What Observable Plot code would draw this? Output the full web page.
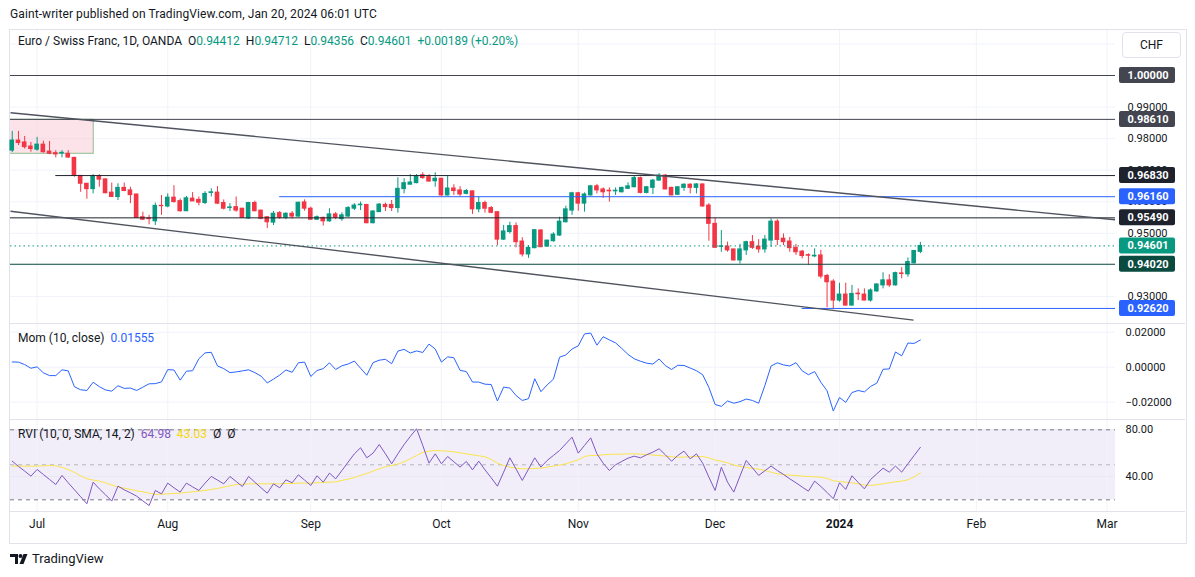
<!DOCTYPE html>
<html><head><meta charset="utf-8">
<script src="https://cdn.jsdelivr.net/npm/d3@7"></script>
<script src="https://cdn.jsdelivr.net/npm/@observablehq/plot@0.6"></script>
<style>
html,body{margin:0;padding:0;background:#fff;}
#wrap{position:relative;width:1195px;height:577px;overflow:hidden;font-family:Roboto,"Liberation Sans",sans-serif;color:#131722;}
.a{position:absolute;white-space:nowrap;}
.a svg{display:block;}
.sep{position:absolute;left:10px;width:1175px;height:1px;background:#e0e3eb;}
</style></head><body>
<div id="wrap">
  <div class="a" style="left:10px;top:7px;font-size:12px;letter-spacing:0.1px;">Gaint-writer published on TradingView.com, Jan 20, 2024 06:01 UTC</div>
  <div class="a" style="left:9px;top:29px;width:1176px;height:513px;border:1px solid #e0e3eb;"></div>
  <div class="a" id="main" style="left:0;top:30px;"></div>
  <div class="a" id="mom" style="left:0;top:323px;"></div>
  <div class="a" id="rvi" style="left:0;top:419px;"></div>
  <div class="sep" style="top:323px;"></div>
  <div class="sep" style="top:419px;"></div>
  <div class="sep" style="top:511px;"></div>
  <div class="a" id="symline" style="left:18px;top:34px;font-size:12px;line-height:14px;"></div>
  <div class="a" style="left:1122px;top:32px;width:57px;height:24px;border:1px solid #e0e3eb;border-radius:4px;background:#fff;font-size:12px;line-height:24px;text-align:center;">CHF</div>
  <div class="a" style="left:18px;top:331px;font-size:12px;line-height:14px;">Mom (10, close)&nbsp;&nbsp;<span style="color:#2962ff">0.01555</span></div>
  <div class="a" style="left:18px;top:427px;font-size:12px;line-height:14px;">RVI (10, 0, SMA, 14, 2)&nbsp;&nbsp;<span style="color:#7e57c2">64.98</span>&nbsp;&nbsp;<span style="color:#f5d90a">43.03</span>&nbsp;&nbsp;Ø&nbsp;&nbsp;Ø</div>
  <div class="a" style="left:10px;top:551px;height:16px;">
    <svg width="20" height="16" viewBox="0 0 20 16"><path d="M0 3h8v10H5V6H0z" fill="#131722"/><circle cx="10.5" cy="5" r="2" fill="#131722"/><path d="M13.5 3h4l-4 10h-4z" fill="#131722"/></svg>
  </div>
  <div class="a" style="left:32px;top:551px;font-size:13px;line-height:16px;">TradingView</div>
</div>
<script>
// ---------- data ----------
const firstBarDate = "2023-06-27";
const holidays = ["2023-12-25", "2024-01-01"];
const calendarEnd = "2024-03-08";
const monthNames = ["Jan","Feb","Mar","Apr","May","Jun","Jul","Aug","Sep","Oct","Nov","Dec"];
const dayChange = "+0.00189";
const dayChangePct = "(+0.20%)";

const opens = [0.9762,0.9794,0.9788,0.9775,0.9765,0.9781,0.9759,0.9754,0.9753,0.9752,
0.9739,0.9682,0.9657,0.9640,0.9680,0.9671,0.9629,0.9615,0.9644,0.9636,
0.9623,0.9551,0.9547,0.9538,0.9587,0.9585,0.9613,0.9602,0.9570,0.9610,
0.9606,0.9596,0.9628,0.9629,0.9596,0.9580,0.9583,0.9578,0.9547,0.9596,
0.9572,0.9551,0.9534,0.9564,0.9549,0.9562,0.9553,0.9598,0.9578,0.9543,
0.9549,0.9538,0.9560,0.9545,0.9553,0.9578,0.9589,0.9590,0.9532,0.9567,
0.9590,0.9590,0.9580,0.9640,0.9654,0.9659,0.9684,0.9678,0.9665,0.9673,
0.9620,0.9642,0.9636,0.9625,0.9633,0.9576,0.9596,0.9580,0.9567,0.9480,
0.9504,0.9523,0.9474,0.9433,0.9453,0.9509,0.9458,0.9475,0.9493,0.9535,
0.9572,0.9627,0.9594,0.9620,0.9649,0.9639,0.9635,0.9633,0.9630,0.9641,
0.9646,0.9675,0.9628,0.9644,0.9667,0.9683,0.9644,0.9622,0.9644,0.9654,
0.9644,0.9655,0.9588,0.9530,0.9457,0.9458,0.9449,0.9414,0.9446,0.9472,
0.9458,0.9449,0.9477,0.9537,0.9483,0.9474,0.9454,0.9442,0.9431,0.9427,
0.9430,0.9365,0.9347,0.9287,0.9306,0.9271,0.9309,0.9306,0.9287,0.9316,
0.9335,0.9351,0.9335,0.9373,0.9370,0.9405,0.94412];
const highs = [0.9823,0.9823,0.9807,0.9788,0.9804,0.9792,0.9791,0.9762,0.9762,0.9762,
0.9741,0.9683,0.9658,0.9686,0.9686,0.9672,0.9659,0.9657,0.9659,0.9646,
0.9624,0.9567,0.9557,0.9596,0.9620,0.9625,0.9651,0.9609,0.9617,0.9629,
0.9615,0.9632,0.9641,0.9648,0.9606,0.9594,0.9615,0.9579,0.9598,0.9602,
0.9573,0.9552,0.9569,0.9569,0.9565,0.9569,0.9598,0.9606,0.9583,0.9555,
0.9551,0.9578,0.9566,0.9565,0.9585,0.9594,0.9599,0.9591,0.9572,0.9594,
0.9596,0.9604,0.9676,0.9673,0.9686,0.9686,0.9692,0.9686,0.9692,0.9674,
0.9681,0.9654,0.9648,0.9639,0.9634,0.9615,0.9602,0.9585,0.9568,0.9525,
0.9535,0.9533,0.9486,0.9461,0.9512,0.9512,0.9478,0.9502,0.9551,0.9586,
0.9630,0.9630,0.9628,0.9652,0.9655,0.9644,0.9644,0.9644,0.9646,0.9660,
0.9681,0.9678,0.9649,0.9671,0.9689,0.9686,0.9646,0.9648,0.9657,0.9657,
0.9657,0.9656,0.9594,0.9548,0.9509,0.9472,0.9450,0.9465,0.9475,0.9493,
0.9480,0.9493,0.9546,0.9543,0.9498,0.9487,0.9465,0.9446,0.9435,0.9451,
0.9446,0.9370,0.9353,0.9342,0.9342,0.9335,0.9324,0.9324,0.9324,0.9340,
0.9375,0.9369,0.9377,0.9391,0.9422,0.9446,0.94712];
const lows = [0.9756,0.9778,0.9767,0.9757,0.9760,0.9754,0.9749,0.9739,0.9739,0.9738,
0.9678,0.9630,0.9608,0.9625,0.9646,0.9625,0.9614,0.9604,0.9632,0.9594,
0.9548,0.9541,0.9527,0.9525,0.9557,0.9581,0.9596,0.9567,0.9569,0.9601,
0.9587,0.9591,0.9615,0.9591,0.9574,0.9569,0.9567,0.9548,0.9545,0.9568,
0.9543,0.9515,0.9525,0.9544,0.9543,0.9545,0.9551,0.9570,0.9542,0.9541,
0.9523,0.9535,0.9543,0.9538,0.9551,0.9572,0.9572,0.9530,0.9530,0.9566,
0.9569,0.9569,0.9564,0.9625,0.9654,0.9657,0.9671,0.9662,0.9646,0.9617,
0.9618,0.9620,0.9617,0.9622,0.9560,0.9565,0.9564,0.9562,0.9461,0.9477,
0.9498,0.9454,0.9425,0.9421,0.9451,0.9455,0.9456,0.9472,0.9490,0.9533,
0.9557,0.9570,0.9567,0.9618,0.9625,0.9611,0.9599,0.9620,0.9628,0.9639,
0.9644,0.9625,0.9625,0.9623,0.9665,0.9638,0.9619,0.9620,0.9633,0.9625,
0.9625,0.9583,0.9475,0.9453,0.9440,0.9440,0.9413,0.9403,0.9430,0.9449,
0.9437,0.9437,0.9456,0.9461,0.9461,0.9440,0.9430,0.9419,0.9398,0.9423,
0.9356,0.9264,0.9258,0.9282,0.9270,0.9270,0.9287,0.9286,0.9282,0.9313,
0.9324,0.9329,0.9333,0.9356,0.9361,0.9403,0.94356];
const closes = [0.9794,0.9786,0.9773,0.9767,0.9781,0.9757,0.9752,0.9750,0.9755,0.9740,
0.9682,0.9657,0.9640,0.9681,0.9670,0.9627,0.9615,0.9644,0.9634,0.9621,
0.9549,0.9543,0.9545,0.9587,0.9586,0.9613,0.9599,0.9570,0.9611,0.9601,
0.9597,0.9625,0.9630,0.9594,0.9578,0.9582,0.9572,0.9549,0.9596,0.9570,
0.9546,0.9535,0.9562,0.9549,0.9562,0.9553,0.9597,0.9578,0.9543,0.9551,
0.9538,0.9560,0.9549,0.9557,0.9580,0.9588,0.9591,0.9532,0.9569,0.9591,
0.9583,0.9580,0.9641,0.9659,0.9661,0.9681,0.9675,0.9664,0.9673,0.9620,
0.9642,0.9634,0.9623,0.9634,0.9576,0.9596,0.9578,0.9565,0.9480,0.9506,
0.9523,0.9472,0.9433,0.9454,0.9510,0.9456,0.9477,0.9496,0.9537,0.9576,
0.9627,0.9594,0.9623,0.9649,0.9636,0.9630,0.9633,0.9635,0.9644,0.9649,
0.9675,0.9628,0.9646,0.9667,0.9683,0.9639,0.9620,0.9646,0.9654,0.9644,
0.9655,0.9585,0.9530,0.9454,0.9459,0.9446,0.9414,0.9449,0.9472,0.9454,
0.9449,0.9480,0.9537,0.9479,0.9472,0.9453,0.9440,0.9428,0.9429,0.9429,
0.9363,0.9345,0.9287,0.9306,0.9271,0.9308,0.9307,0.9287,0.9319,0.9338,
0.9351,0.9335,0.9374,0.9371,0.9409,0.9444,0.94601];

const mom = [0.0030,0.0029,0.0015,-0.0006,0.0002,-0.0032,-0.0048,-0.0048,-0.0015,-0.0021,
-0.0112,-0.0129,-0.0133,-0.0086,-0.0111,-0.0130,-0.0137,-0.0106,-0.0121,-0.0119,
-0.0133,-0.0114,-0.0095,-0.0094,-0.0084,-0.0014,-0.0016,-0.0074,-0.0023,-0.0020,
0.0048,0.0082,0.0085,0.0007,-0.0008,-0.0031,-0.0027,-0.0021,-0.0015,-0.0031,
-0.0051,-0.0090,-0.0068,-0.0045,-0.0016,-0.0029,0.0025,0.0029,-0.0053,-0.0019,
-0.0008,0.0025,-0.0013,0.0008,0.0018,0.0035,-0.0006,-0.0046,0.0026,0.0040,
0.0045,0.0020,0.0092,0.0102,0.0081,0.0093,0.0084,0.0132,0.0104,0.0029,
0.0059,0.0054,-0.0018,-0.0025,-0.0085,-0.0085,-0.0097,-0.0099,-0.0193,-0.0114,
-0.0119,-0.0162,-0.0190,-0.0180,-0.0066,-0.0140,-0.0101,-0.0069,0.0057,0.0070,
0.0104,0.0122,0.0190,0.0195,0.0126,0.0174,0.0156,0.0139,0.0107,0.0073,
0.0048,0.0034,0.0023,0.0018,0.0047,0.0009,-0.0013,0.0011,0.0010,-0.0005,
-0.0020,-0.0043,-0.0116,-0.0213,-0.0224,-0.0193,-0.0206,-0.0197,-0.0182,-0.0190,
-0.0206,-0.0105,0.0007,0.0025,0.0013,0.0007,0.0026,-0.0021,-0.0043,-0.0025,
-0.0086,-0.0135,-0.0250,-0.0173,-0.0201,-0.0145,-0.0133,-0.0141,-0.0110,-0.0091,
-0.0012,-0.0010,0.0087,0.0065,0.0138,0.0136,0.01555];

const rvi = [53.1,48.6,44.6,40.3,46.0,41.7,37.4,33.1,40.9,34.6,
28.6,22.6,16.6,35.1,29.4,24.3,18.9,31.7,28.6,26.0,
23.1,19.1,15.1,28.0,25.1,34.3,30.3,26.6,34.3,31.1,
28.0,34.3,40.0,36.9,33.7,40.0,35.7,31.4,40.0,35.1,
30.3,25.7,33.7,30.3,37.1,34.6,41.4,36.9,32.3,40.6,
35.1,42.9,38.0,45.1,52.3,59.4,64.6,56.0,60.0,67.4,
59.4,50.9,59.4,67.4,74.3,80.9,66.6,51.4,59.4,50.9,
57.1,52.6,48.0,52.9,45.7,53.1,45.7,38.9,31.7,43.7,
56.0,46.3,36.6,46.3,56.0,48.0,53.7,58.0,62.3,68.0,
73.7,60.0,66.6,73.1,59.4,51.4,45.1,50.0,52.9,55.7,
57.4,56.0,58.6,60.9,63.7,58.6,53.1,58.0,61.7,55.1,
59.4,51.4,39.4,28.0,48.0,35.1,26.6,40.3,53.7,47.4,
40.9,44.9,48.9,45.1,41.7,38.0,34.6,30.9,27.4,36.0,
31.4,26.3,20.9,34.6,28.9,40.6,34.9,29.4,37.4,42.3,
47.1,43.7,48.9,43.7,50.9,58.0,64.98];

const rviSignal = [48.9,48.9,48.9,48.9,48.9,49.1,49.4,49.1,47.7,46.0,
43.4,40.6,38.0,36.9,36.0,34.6,32.6,31.1,30.0,28.9,
27.7,26.9,25.7,24.6,24.9,25.1,25.4,25.7,26.3,26.9,
27.4,28.0,28.9,29.7,30.9,32.0,33.1,33.4,33.7,33.7,
33.7,33.7,33.7,33.7,34.0,34.0,34.3,34.3,34.3,34.6,
34.9,35.1,35.4,36.6,37.7,39.1,40.9,42.6,44.6,46.6,
48.3,49.4,50.6,52.6,55.1,58.0,60.6,61.7,62.3,62.0,
61.7,61.1,60.3,59.4,58.6,57.7,56.9,54.6,51.4,49.4,
48.0,47.1,46.6,46.6,46.9,47.1,48.0,48.9,49.7,50.9,
52.6,54.3,57.1,58.0,58.0,58.6,58.9,59.1,59.1,59.4,
59.4,59.1,58.9,58.3,58.0,57.4,56.9,56.6,56.6,56.9,
57.1,57.1,56.0,54.0,53.1,51.7,49.7,48.6,47.7,46.9,
46.3,45.1,43.7,42.3,41.7,41.1,40.9,40.3,40.0,39.7,
39.4,38.3,36.3,35.7,35.1,34.6,33.7,32.6,32.3,32.9,
33.7,34.6,35.4,36.0,37.1,39.7,43.03];

// price levels drawn on the chart (value, bar where the line starts, colour)
const levelPrices = [1.0000, 0.9861, 0.9683, 0.9616, 0.9549, 0.9402, 0.9262];
const levelStartBar = [-1, -1, 7, 43, -1, -1, 127];
const levelColors = ["#434651", "#434651", "#1e222d", "#2962ff", "#1e222d", "#0b4a3f", "#2962ff"];
// trend lines [bar1, price1, bar2, price2]
const trendUpper = [-0.28, 0.9882, 177.37, 0.9543];
const trendLower = [-0.28, 0.9570, 144.9, 0.9225];
// shaded zone [bar1, bar2, priceTop, priceBottom]
const zone = [-1, 13.1, 0.9860, 0.9752];

const priceTicks = [0.93, 0.94, 0.95, 0.96, 0.97, 0.98, 0.99];
const priceGrid = [0.93, 0.94, 0.95, 0.96, 0.97, 0.98, 0.99, 1.00, 1.01];
const momTicks = [0.02, 0, -0.02];
const rviTicks = [80, 40];
const rviBands = [80, 20];
const rviMid = 50;

// ---------- layout ----------
const W = 1195;
const xDomain = [-0.28, 177.37];
const green = "#089981", red = "#f23645";
const baseStyle = {background: "transparent", fontFamily: "Roboto, 'Liberation Sans', sans-serif", fontSize: "11px", color: "#131722", overflow: "visible"};
const common = {width: W, marginLeft: 10, marginRight: 80, marginTop: 0, x: {domain: xDomain, axis: null}, color: {type: "identity"}, style: baseStyle};

function tradingDays(start, end, skip) {
  const out = [];
  const d = new Date(start + "T00:00:00Z");
  const e = new Date(end + "T00:00:00Z");
  while (d <= e) {
    const wd = d.getUTCDay();
    const iso = d.toISOString().slice(0, 10);
    if (wd !== 0 && wd !== 6 && !skip.includes(iso)) out.push(new Date(d));
    d.setUTCDate(d.getUTCDate() + 1);
  }
  return out;
}
const days = tradingDays(firstBarDate, calendarEnd, holidays);
const monthTicks = [];
days.forEach((d, k) => {
  if (k > 0 && d.getUTCMonth() !== days[k - 1].getUTCMonth()) {
    const m = d.getUTCMonth();
    monthTicks.push({k, label: m === 0 ? String(d.getUTCFullYear()) : monthNames[m], year: m === 0});
  }
});

const bars = opens.map((o, k) => ({k, o, h: highs[k], l: lows[k], c: closes[k], col: closes[k] >= o ? green : red}));
const last = bars[bars.length - 1];
const levels = levelPrices.map((p, j) => ({p, from: levelStartBar[j], color: levelColors[j]}));
const tags = levels.map(d => ({p: d.p, bg: d.color})).concat([{p: last.c, bg: green}]);
const fmt5 = v => v.toFixed(5);

// symbol line
document.getElementById("symline").innerHTML =
  `Euro / Swiss Franc, 1D, OANDA&nbsp;&nbsp;O<span style="color:${green}">${fmt5(last.o)}</span>&nbsp;&nbsp;H<span style="color:${green}">${fmt5(last.h)}</span>&nbsp;&nbsp;L<span style="color:${green}">${fmt5(last.l)}</span>&nbsp;&nbsp;C<span style="color:${green}">${fmt5(last.c)}</span>&nbsp;&nbsp;<span style="color:${green}">${dayChange} ${dayChangePct}</span>`;

// ---------- main price pane ----------
const mainPlot = Plot.plot({
  ...common, height: 293, marginBottom: 0,
  y: {domain: [0.92143, 1.01426], axis: null},
  marks: [
    Plot.ruleY(priceGrid, {stroke: "#f0f3fa"}),
    Plot.ruleX(monthTicks, {x: "k", stroke: "#f0f3fa"}),
    Plot.rect([zone], {x1: d => d[0], x2: d => d[1], y1: d => d[2], y2: d => d[3], fill: "#f9c5d3", fillOpacity: 0.5, stroke: "#8fbf8f", strokeWidth: 1, clip: true}),
    Plot.ruleX(bars, {x: "k", y1: "l", y2: "h", stroke: "col", strokeWidth: 1}),
    Plot.rect(bars, {x1: d => d.k - 0.37, x2: d => d.k + 0.37, y1: "o", y2: "c", fill: "col", insetTop: -0.5, insetBottom: -0.5}),
    Plot.ruleY(levels, {y: "p", x1: "from", x2: xDomain[1], stroke: "color", strokeWidth: 1, clip: true}),
    Plot.ruleY([last.c], {x1: xDomain[0], x2: xDomain[1], stroke: green, strokeDasharray: "1.5,3"}),
    Plot.link([trendUpper, trendLower], {x1: d => d[0], y1: d => d[1], x2: d => d[2], y2: d => d[3], stroke: "#50535e", strokeWidth: 1.4, clip: true}),
    Plot.text(priceTicks, {x: xDomain[1], y: d => d, text: d => fmt5(d), textAnchor: "start", dx: 12, fill: "#131722", fontSize: 11}),
    Plot.rect(tags, {x1: xDomain[1], x2: xDomain[1], y1: "p", y2: "p", insetLeft: 4, insetRight: -60, insetTop: -8, insetBottom: -8, fill: "bg", rx: 2}),
    Plot.text(tags, {x: xDomain[1], y: "p", text: d => fmt5(d.p), textAnchor: "start", dx: 12, fill: "white", fontWeight: "bold", fontSize: 11})
  ]
});
document.getElementById("main").appendChild(mainPlot);

// ---------- momentum pane ----------
const momPlot = Plot.plot({
  ...common, height: 96, marginBottom: 0,
  y: {domain: [-0.02989, 0.02497], axis: null},
  marks: [
    Plot.ruleY(momTicks, {stroke: "#f0f3fa"}),
    Plot.ruleX(monthTicks, {x: "k", stroke: "#f0f3fa"}),
    Plot.line(mom, {x: (d, i) => i, y: d => d, stroke: "#2962ff", strokeWidth: 1}),
    Plot.text(momTicks, {x: xDomain[1], y: d => d, text: d => (d < 0 ? "\u2212" : "") + Math.abs(d).toFixed(5), textAnchor: "start", dx: 10, fill: "#131722", fontSize: 11})
  ]
});
document.getElementById("mom").appendChild(momPlot);

// ---------- RVI pane + time axis ----------
const rviPlot = Plot.plot({
  ...common, height: 124, marginBottom: 32,
  y: {domain: [9.97, 88.83], axis: null},
  marks: [
    Plot.rect([rviBands], {x1: xDomain[0], x2: xDomain[1], y1: d => d[0], y2: d => d[1], fill: "#7e57c2", fillOpacity: 0.1}),
    Plot.ruleY(rviTicks, {stroke: "#e9e6f2"}),
    Plot.ruleX(monthTicks, {x: "k", stroke: "#f0f3fa"}),
    Plot.ruleY(rviBands, {x1: xDomain[0], x2: xDomain[1], stroke: "#787b86", strokeDasharray: "4,4"}),
    Plot.ruleY([rviMid], {x1: xDomain[0], x2: xDomain[1], stroke: "#b2b5be", strokeDasharray: "4,4"}),
    Plot.line(rviSignal, {x: (d, i) => i, y: d => d, stroke: "#fbe44a", strokeWidth: 1}),
    Plot.line(rvi, {x: (d, i) => i, y: d => d, stroke: "#7e57c2", strokeWidth: 1}),
    Plot.text(rviTicks, {x: xDomain[1], y: d => d, text: d => d.toFixed(2), textAnchor: "start", dx: 10, fill: "#131722", fontSize: 11}),
    Plot.text(monthTicks.filter(d => !d.year), {x: "k", frameAnchor: "bottom", dy: 16, text: "label", fill: "#131722", fontSize: 12}),
    Plot.text(monthTicks.filter(d => d.year), {x: "k", frameAnchor: "bottom", dy: 16, text: "label", fill: "#131722", fontSize: 12, fontWeight: "bold"})
  ]
});
document.getElementById("rvi").appendChild(rviPlot);
</script>
</body></html>
